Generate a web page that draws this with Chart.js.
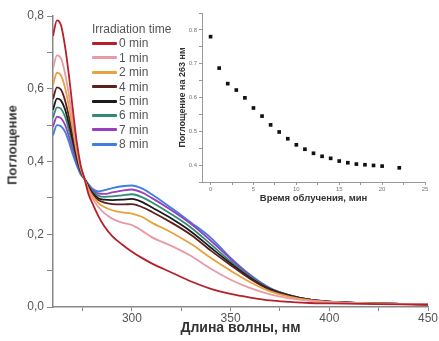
<!DOCTYPE html>
<html lang="ru">
<head>
<meta charset="UTF-8">
<title>Поглощение – время облучения</title>
<script src="https://cdn.jsdelivr.net/npm/chart.js"></script>
<style>
  html, body { margin: 0; padding: 0; background: #fff; }
  body {
    width: 439px; height: 341px; position: relative; overflow: hidden;
    font-family: 'Liberation Sans', Arial, sans-serif;
  }
  #main { position: absolute; left: 0; top: 0; }
  #inset { position: absolute; left: 175px; top: 0; }
  .ytitle {
    position: absolute; left: 12px; top: 145px;
    transform: translate(-50%, -50%) rotate(-90deg);
    font-weight: bold; font-size: 13px; color: #333; white-space: nowrap;
  }
  .legend {
    position: absolute; left: 92px; top: 22px;
    font-size: 12px; line-height: 14.4px; color: #555;
  }
  .legend .row { display: flex; align-items: center; height: 14.4px; }
  .legend .swatch { width: 25px; height: 3px; margin-right: 2px; border-radius: 1px; }
</style>
</head>
<body>
<canvas id="main" width="439" height="341"></canvas>
<canvas id="inset" width="264" height="206"></canvas>
<div class="ytitle">Поглощение</div>
<div class="legend" id="legend"><div class="row">Irradiation time</div></div>

<script>
// wavelength grid, nm
const wavelengths = [260, 262, 264, 266, 268, 270, 272, 274, 276, 278, 280, 283, 286, 290,
  295, 300, 305, 310, 320, 330, 340, 350, 360, 370, 380, 390, 400, 425, 450];

const seriesLabels = ['0 min', '1 min', '2 min', '4 min', '5 min', '6 min', '7 min', '8 min'];
const seriesColors = ['#b5202a', '#e89aa6', '#e8a23c', '#5c1f1f', '#1a1a1a', '#2f8a78', '#9a3fc0', '#3c7fe0'];

const abs0 = [0.745, 0.788, 0.775, 0.720, 0.640, 0.545, 0.455, 0.390, 0.352, 0.310, 0.285, 0.250, 0.222, 0.195,
  0.172, 0.152, 0.135, 0.120, 0.095, 0.070, 0.050, 0.036, 0.026, 0.018, 0.014, 0.011, 0.010, 0.008, 0.006];
const abs1 = [0.655, 0.692, 0.684, 0.645, 0.585, 0.512, 0.440, 0.385, 0.352, 0.318, 0.298, 0.275, 0.258, 0.243,
  0.232, 0.225, 0.210, 0.192, 0.168, 0.140, 0.105, 0.075, 0.052, 0.035, 0.024, 0.017, 0.013, 0.009, 0.007];
const abs2 = [0.610, 0.644, 0.637, 0.605, 0.553, 0.490, 0.428, 0.380, 0.352, 0.324, 0.305, 0.286, 0.275, 0.266,
  0.260, 0.257, 0.248, 0.232, 0.205, 0.173, 0.135, 0.100, 0.068, 0.043, 0.028, 0.019, 0.014, 0.010, 0.007];
const abs4 = [0.572, 0.604, 0.598, 0.570, 0.525, 0.472, 0.419, 0.377, 0.352, 0.328, 0.310, 0.294, 0.287, 0.283,
  0.282, 0.283, 0.275, 0.262, 0.232, 0.198, 0.155, 0.115, 0.077, 0.047, 0.030, 0.020, 0.014, 0.010, 0.007];
const abs5 = [0.542, 0.573, 0.568, 0.545, 0.505, 0.458, 0.411, 0.374, 0.352, 0.331, 0.314, 0.299, 0.295, 0.294,
  0.295, 0.297, 0.289, 0.274, 0.243, 0.207, 0.163, 0.120, 0.080, 0.049, 0.031, 0.020, 0.015, 0.010, 0.007];
const abs6 = [0.520, 0.549, 0.545, 0.525, 0.488, 0.446, 0.405, 0.371, 0.352, 0.334, 0.318, 0.306, 0.303, 0.304,
  0.307, 0.310, 0.302, 0.288, 0.255, 0.218, 0.172, 0.125, 0.083, 0.050, 0.032, 0.020, 0.015, 0.010, 0.007];
const abs7 = [0.495, 0.523, 0.519, 0.502, 0.470, 0.433, 0.398, 0.368, 0.352, 0.336, 0.322, 0.312, 0.311, 0.315,
  0.320, 0.323, 0.315, 0.300, 0.266, 0.228, 0.182, 0.132, 0.086, 0.051, 0.032, 0.020, 0.015, 0.010, 0.007];
const abs8 = [0.472, 0.500, 0.497, 0.483, 0.455, 0.420, 0.390, 0.365, 0.352, 0.337, 0.325, 0.318, 0.321, 0.327,
  0.332, 0.334, 0.326, 0.310, 0.272, 0.232, 0.190, 0.135, 0.088, 0.052, 0.032, 0.020, 0.015, 0.010, 0.007];

// inset: absorbance at 263 nm vs irradiation time
const times = [0, 1, 2, 3, 4, 5, 6, 7, 8, 9, 10, 11, 12, 13, 14, 15, 16, 17, 18, 19, 20, 22];
const abs263 = [0.780, 0.687, 0.641, 0.622, 0.599, 0.569, 0.545, 0.519, 0.498, 0.478, 0.460,
  0.447, 0.435, 0.426, 0.420, 0.412, 0.407, 0.403, 0.401, 0.399, 0.397, 0.392];

Chart.defaults.font.family = "'Liberation Sans', Arial, sans-serif";

const allSeries = [abs0, abs1, abs2, abs4, abs5, abs6, abs7, abs8];

// legend rows
const legendEl = document.getElementById('legend');
seriesLabels.forEach((lab, i) => {
  const row = document.createElement('div');
  row.className = 'row';
  const sw = document.createElement('span');
  sw.className = 'swatch';
  sw.style.background = seriesColors[i];
  row.appendChild(sw);
  row.appendChild(document.createTextNode(lab));
  legendEl.appendChild(row);
});

new Chart(document.getElementById('main'), {
  type: 'line',
  data: {
    datasets: allSeries.map((vals, i) => ({
      label: seriesLabels[i],
      data: wavelengths.map((w, k) => ({ x: w, y: vals[k] })),
      borderColor: seriesColors[i],
      borderWidth: 1.8,
      pointRadius: 0,
      cubicInterpolationMode: 'monotone',
      fill: false
    }))
  },
  options: {
    responsive: false,
    animation: false,
    layout: { padding: { left: 0, right: 11, top: 16, bottom: 0 } },
    plugins: { legend: { display: false }, tooltip: { enabled: false } },
    scales: {
      x: {
        type: 'linear', min: 260, max: 450,
        ticks: {
          stepSize: 25, includeBounds: false, autoSkip: false, maxRotation: 0,
          color: '#555', font: { size: 12 }, padding: 0,
          callback: v => (v % 50 === 0 ? String(v) : '')
        },
        grid: { drawOnChartArea: false, tickLength: 4, tickColor: '#888' },
        border: { color: '#888', width: 1.5 },
        title: {
          display: true, text: 'Длина волны, нм', color: '#333',
          font: { size: 14, weight: 'bold' }, padding: { top: 0, bottom: 4.6 }
        },
        afterFit: s => { s.height = 34; }
      },
      y: {
        min: 0, max: 0.8,
        ticks: {
          stepSize: 0.1, includeBounds: false, color: '#555', font: { size: 12 }, padding: 3,
          callback: v => {
            const k = Math.round(v * 10);
            return k % 2 === 0 ? (k / 10).toFixed(1).replace('.', ',') : '';
          }
        },
        grid: { drawOnChartArea: false, tickLength: 6, tickColor: '#888' },
        border: { color: '#888', width: 1.5 },
        afterFit: s => { s.width = 53; }
      }
    }
  }
});

new Chart(document.getElementById('inset'), {
  type: 'scatter',
  data: {
    datasets: [{
      data: times.map((t, k) => ({ x: t, y: abs263[k] })),
      pointStyle: 'rect',
      pointRadius: 2.6,
      backgroundColor: '#111',
      borderColor: '#111',
      borderWidth: 0
    }]
  },
  options: {
    responsive: false,
    animation: false,
    layout: { padding: { left: 0, right: 14, top: 13, bottom: 0 } },
    plugins: { legend: { display: false }, tooltip: { enabled: false } },
    scales: {
      x: {
        type: 'linear', min: -1, max: 25,
        ticks: {
          stepSize: 2.5, includeBounds: false, autoSkip: false, maxRotation: 0,
          color: '#777', font: { size: 6 }, padding: 1,
          callback: v => (Math.round(v * 2) % 10 === 0 ? String(v) : '')
        },
        grid: { drawOnChartArea: false, tickLength: 3, tickColor: '#999' },
        border: { color: '#999', width: 1 },
        title: {
          display: true, text: 'Время облучения, мин', color: '#333',
          font: { size: 9.5, weight: 'bold' }, padding: { top: 0, bottom: 1.6 }
        },
        afterFit: s => { s.height = 24; }
      },
      y: {
        min: 0.35, max: 0.85,
        ticks: {
          stepSize: 0.05, includeBounds: false, color: '#777', font: { size: 6 }, padding: 2,
          callback: v => {
            const k = Math.round(v * 20);
            return k % 2 === 0 ? (k / 20).toFixed(1) : '';
          }
        },
        grid: { drawOnChartArea: false, tickLength: 3, tickColor: '#999' },
        border: { color: '#999', width: 1 },
        title: {
          display: true, text: 'Поглощение на 263 нм', color: '#333',
          font: { size: 9, weight: 'bold' }, padding: { top: 2.6, bottom: 0 }
        },
        afterFit: s => { s.width = 27; }
      }
    }
  }
});
</script>
</body>
</html>
